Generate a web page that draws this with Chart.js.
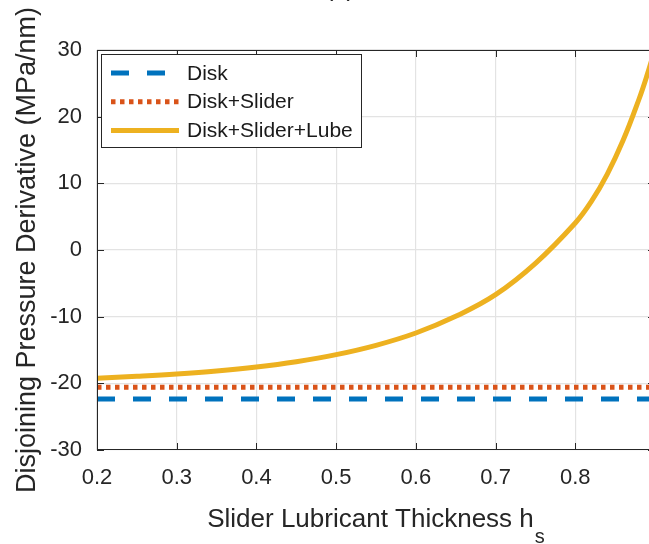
<!DOCTYPE html>
<html>
<head>
<meta charset="utf-8">
<script src="https://cdn.jsdelivr.net/npm/chart.js@4.4.1/dist/chart.umd.min.js"></script>
<style>
  html, body { margin: 0; padding: 0; background: #fff; overflow: hidden; }
  canvas { display: block; }
</style>
</head>
<body>
<!-- axes run slightly past the right edge of the page, as in the original figure -->
<canvas id="dpdChart" width="656" height="544"></canvas>
<script>
// slider lubricant thickness range and tick marks
const hRange = [0.2, 0.9];
const xTicks = [0.2, 0.3, 0.4, 0.5, 0.6, 0.7, 0.8];
const yTicks = [-30, -20, -10, 0, 10, 20, 30];

// constant contributions (MPa/nm)
const disk = [-22.35, -22.35];
const diskSlider = [-20.6, -20.6];

// disk + slider + lube contribution
const hLube = [0.2, 0.25, 0.3, 0.35, 0.4, 0.45, 0.5, 0.55, 0.6, 0.65, 0.7, 0.75, 0.8, 0.82, 0.84, 0.86, 0.88, 0.89, 0.9];
const lube = [-19.25, -18.95, -18.6, -18.15, -17.55, -16.75, -15.7, -14.3, -12.45, -9.95, -6.7, -2.0, 4.05, 7.25, 11.35, 16.45, 22.65, 26.2, 30.15];

const labels = ['Disk', 'Disk+Slider', 'Disk+Slider+Lube'];
const colors = ['#0072BD', '#D95319', '#EDB120'];

const FONT = "'Liberation Sans', Arial, Helvetica, sans-serif";
const AXIS = '#262626';

Chart.defaults.font.family = FONT;

const pairs = (xs, ys) => xs.map((x, i) => ({ x: x, y: ys[i] }));

// box, inward ticks, legend and axis titles
const figureDecor = {
    id: 'figureDecor',
    afterDraw(chart) {
        const ctx = chart.ctx;
        const a = chart.chartArea;
        const xs = chart.scales.x;
        const ys = chart.scales.y;
        const tick = 7;

        ctx.save();
        ctx.strokeStyle = AXIS;
        ctx.lineWidth = 1;
        ctx.beginPath();
        ctx.rect(a.left + 0.5, a.top + 0.5, a.right - a.left - 1, a.bottom - a.top - 1);
        ctx.stroke();

        ctx.beginPath();
        xTicks.forEach(v => {
            const px = Math.round(xs.getPixelForValue(v)) + 0.5;
            ctx.moveTo(px, a.bottom); ctx.lineTo(px, a.bottom - tick);
            ctx.moveTo(px, a.top); ctx.lineTo(px, a.top + tick);
        });
        yTicks.forEach(v => {
            const py = Math.round(ys.getPixelForValue(v)) + 0.5;
            ctx.moveTo(a.left, py); ctx.lineTo(a.left + tick, py);
            ctx.moveTo(a.right, py); ctx.lineTo(a.right - tick, py);
        });
        ctx.stroke();

        // legend
        const lx = 101.5, ly = 54.5, lw = 260, lh = 93;
        ctx.fillStyle = '#fff';
        ctx.fillRect(lx, ly, lw, lh);
        ctx.strokeRect(lx, ly, lw, lh);
        chart.data.datasets.forEach((ds, i) => {
            const y = 73 + i * 28.7;
            ctx.save();
            ctx.strokeStyle = ds.borderColor;
            ctx.lineWidth = ds.borderWidth;
            ctx.setLineDash(ds.borderDash || []);
            ctx.lineCap = 'butt';
            ctx.beginPath();
            ctx.moveTo(111, y);
            ctx.lineTo(179, y);
            ctx.stroke();
            ctx.restore();
            ctx.fillStyle = '#1a1a1a';
            ctx.font = '21px ' + FONT;
            ctx.textBaseline = 'middle';
            ctx.textAlign = 'left';
            ctx.fillText(ds.label, 187, y + 1);
        });

        // x axis title with subscript
        ctx.fillStyle = AXIS;
        ctx.textBaseline = 'alphabetic';
        ctx.textAlign = 'left';
        const main = 'Slider Lubricant Thickness h';
        ctx.font = '26px ' + FONT;
        const mw = ctx.measureText(main).width;
        ctx.font = '20px ' + FONT;
        const sw = ctx.measureText('s').width;
        const cx = (a.left + a.right) / 2;
        const x0 = cx - (mw + 1 + sw) / 2;
        ctx.font = '26px ' + FONT;
        ctx.fillText(main, x0, 527);
        ctx.font = '20px ' + FONT;
        ctx.fillText('s', x0 + mw + 1, 543);

        // y axis title
        ctx.save();
        ctx.translate(35, (a.top + a.bottom) / 2);
        ctx.rotate(-Math.PI / 2);
        ctx.font = '27px ' + FONT;
        ctx.textAlign = 'center';
        ctx.fillText('Disjoining Pressure Derivative (MPa/nm)', 0, 0);
        ctx.restore();

        // panel title, mostly above the canvas
        ctx.font = '26px ' + FONT;
        ctx.textAlign = 'center';
        ctx.fillText('(c)', 340, -4);
        ctx.restore();
    }
};

new Chart(document.getElementById('dpdChart'), {
    type: 'line',
    data: {
        datasets: [
            {
                label: labels[0],
                data: pairs(hRange, disk),
                borderColor: colors[0],
                borderWidth: 5,
                borderDash: [18, 18],
                order: 3
            },
            {
                label: labels[1],
                data: pairs(hRange, diskSlider),
                borderColor: colors[1],
                borderWidth: 5,
                borderDash: [4.5, 4.5],
                order: 2
            },
            {
                label: labels[2],
                data: pairs(hLube, lube),
                borderColor: colors[2],
                borderWidth: 5,
                tension: 0.4,
                order: 1
            }
        ]
    },
    options: {
        responsive: false,
        animation: false,
        devicePixelRatio: 1,
        layout: { padding: { top: 50, left: 0, right: 1, bottom: 0 } },
        elements: {
            point: { radius: 0 },
            line: { borderCapStyle: 'butt', fill: false }
        },
        scales: {
            x: {
                type: 'linear',
                min: hRange[0],
                max: hRange[1],
                afterFit: s => { s.height = 94; },
                afterBuildTicks: s => { s.ticks = xTicks.map(v => ({ value: v })); },
                grid: { color: '#e3e3e3', lineWidth: 1.2, drawTicks: false },
                border: { display: false },
                ticks: {
                    padding: 15,
                    color: AXIS,
                    font: { size: 22 },
                    callback: v => v.toFixed(1)
                }
            },
            y: {
                min: yTicks[0],
                max: yTicks[yTicks.length - 1],
                afterFit: s => { s.width = 97; },
                afterBuildTicks: s => { s.ticks = yTicks.map(v => ({ value: v })); },
                grid: { color: '#e3e3e3', lineWidth: 1.2, drawTicks: false },
                border: { display: false },
                ticks: {
                    padding: 15,
                    color: AXIS,
                    font: { size: 22 }
                }
            }
        },
        plugins: {
            legend: { display: false },
            tooltip: { enabled: false }
        }
    },
    plugins: [figureDecor]
});
</script>
</body>
</html>
